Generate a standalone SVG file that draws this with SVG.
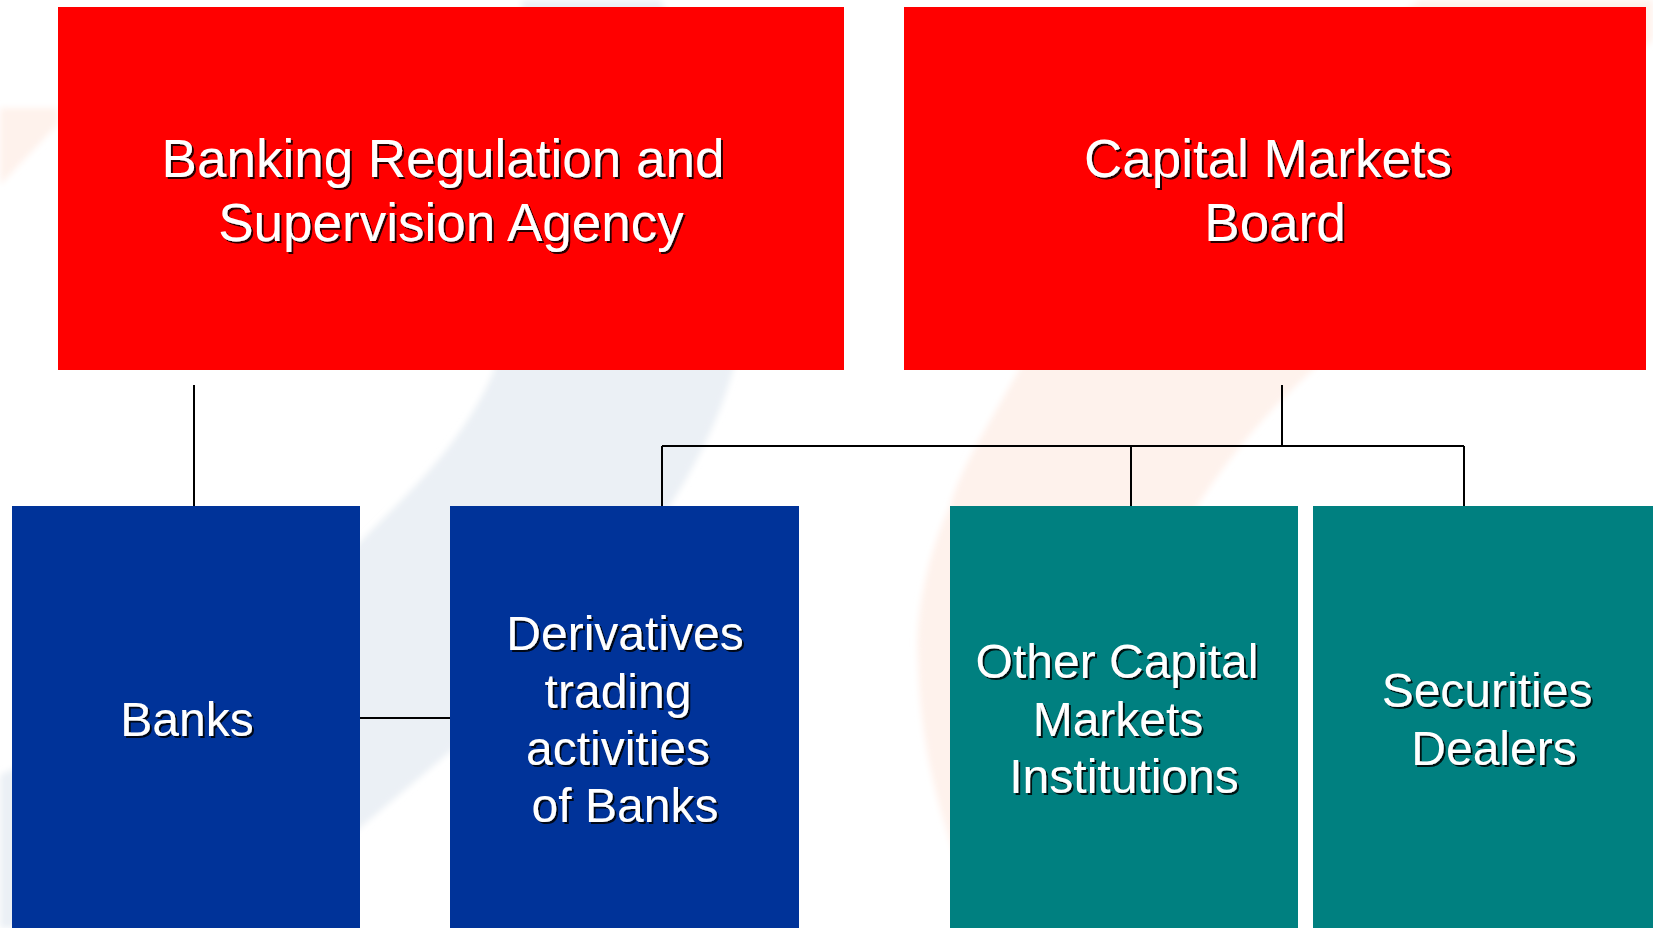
<svg xmlns="http://www.w3.org/2000/svg" width="1653" height="928" viewBox="0 0 1653 928">
<defs>
<style>
.lbl{font-family:"Liberation Sans",Arial,sans-serif;fill:#fff;text-anchor:middle;filter:url(#sh)}
.top{font-size:53px}
.bot{font-size:48px}
.red{fill:#ff0000}
.blue{fill:#003399}
.teal{fill:#008080}
.conn{stroke:#000;stroke-width:2;fill:none}
</style>
<filter id="sh" x="-10%" y="-10%" width="130%" height="140%">
<feOffset in="SourceAlpha" dx="2" dy="2" result="o"/>
<feGaussianBlur in="o" stdDeviation="0.5" result="b"/>
<feColorMatrix in="b" type="matrix" values="0 0 0 0 0  0 0 0 0 0  0 0 0 0 0  0 0 0 0.85 0" result="s"/>
<feMerge><feMergeNode in="s"/><feMergeNode in="SourceGraphic"/></feMerge>
</filter>
<filter id="soft" x="-5%" y="-5%" width="110%" height="110%">
<feGaussianBlur stdDeviation="3"/>
</filter>
</defs>
<rect width="1653" height="928" fill="#fff"/>
<g id="watermark" filter="url(#soft)">
<path d="M522,0 C515,180 505,330 494,371 C460,450 400,500 361,541 C260,640 120,720 0,775 L0,928 L241,928 L361,827 L451,751 C560,650 690,520 733,371 C760,250 710,90 660,0 Z" fill="#ebf0f5"/>
<path d="M0,108 L58,108 L58,124 L0,185 Z" fill="#fef2ec"/>
<path d="M1420,0 C1250,120 1080,260 1019,370 C985,430 960,470 950,506 C925,560 915,620 918,660 C920,740 935,800 960,870 L985,928 L1060,928 C1090,780 1130,620 1197,506 C1240,440 1280,400 1313,370 C1420,260 1560,120 1653,40 L1653,0 Z" fill="#fef2ec"/>
</g>
<g id="connectors">
<path class="conn" d="M194,385 V506"/>
<path class="conn" d="M1282,385 V446"/>
<path class="conn" d="M662,446 H1464"/>
<path class="conn" d="M662,446 V506"/>
<path class="conn" d="M1131,446 V506"/>
<path class="conn" d="M1464,446 V506"/>
<path class="conn" d="M360,718 H450"/>
</g>
<g id="brsa">
<rect class="red" x="58" y="7" width="786" height="363"/>
<text class="lbl top" x="443" y="177">Banking Regulation and</text>
<text class="lbl top" x="451" y="241">Supervision Agency</text>
</g>
<g id="cmb">
<rect class="red" x="904" y="7" width="742" height="363"/>
<text class="lbl top" x="1268" y="177">Capital Markets</text>
<text class="lbl top" x="1275" y="241">Board</text>
</g>
<g id="banks">
<rect class="blue" x="12" y="506" width="348" height="422"/>
<text class="lbl bot" x="187" y="736">Banks</text>
</g>
<g id="derivatives">
<rect class="blue" x="450" y="506" width="349" height="422"/>
<text class="lbl bot" x="625" y="650">Derivatives</text>
<text class="lbl bot" x="618" y="708">trading</text>
<text class="lbl bot" x="618" y="765">activities</text>
<text class="lbl bot" x="625" y="822">of Banks</text>
</g>
<g id="other">
<rect class="teal" x="950" y="506" width="348" height="422"/>
<text class="lbl bot" x="1117" y="678">Other Capital</text>
<text class="lbl bot" x="1118" y="736">Markets</text>
<text class="lbl bot" x="1124" y="793">Institutions</text>
</g>
<g id="securities">
<rect class="teal" x="1313" y="506" width="340" height="422"/>
<text class="lbl bot" x="1487" y="707">Securities</text>
<text class="lbl bot" x="1494" y="765">Dealers</text>
</g>
</svg>
